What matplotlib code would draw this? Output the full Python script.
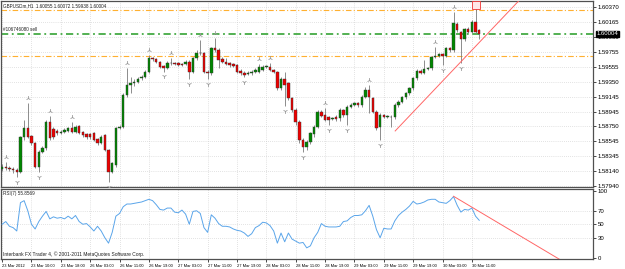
import matplotlib
from matplotlib import pyplot as plt
from matplotlib import transforms

matplotlib.use('Agg')
plt.rcParams['font.family'] = ['Liberation Sans', 'DejaVu Sans']

# GBPUSDm H1 candles, 23 Mar 2012 02:00 .. 30 Mar 2012
opens = [
    1.58165, 1.58202, 1.58188, 1.58174, 1.58156, 1.58134, 1.58609, 1.58723, 1.58618, 1.58519,
    1.58202, 1.58405, 1.58451, 1.58813, 1.58709, 1.58691, 1.58664, 1.58677, 1.58691, 1.58723,
    1.58677, 1.58754, 1.58673, 1.58641, 1.58646, 1.58655, 1.58573, 1.58528, 1.58632, 1.58428,
    1.58134, 1.58224, 1.58723, 1.58745, 1.59176, 1.59311, 1.59334, 1.59357, 1.59402, 1.59425,
    1.59493, 1.59674, 1.59660, 1.59629, 1.59570, 1.59538, 1.59615, 1.59615, 1.59606, 1.59597,
    1.59597, 1.59629, 1.59493, 1.59674, 1.59751, 1.59742, 1.59493, 1.59470, 1.59810, 1.59787,
    1.59660, 1.59629, 1.59606, 1.59597, 1.59583, 1.59506, 1.59479, 1.59461, 1.59470, 1.59493,
    1.59493, 1.59515, 1.59561, 1.59561, 1.59515, 1.59493, 1.59266, 1.59388, 1.59334, 1.59130,
    1.58972, 1.58813, 1.58564, 1.58473, 1.58541, 1.58641, 1.58745, 1.58949, 1.58904, 1.58872,
    1.58854, 1.58881, 1.58858, 1.58972, 1.58904, 1.59017, 1.59040, 1.59062, 1.59040, 1.59153,
    1.59244, 1.59130, 1.58949, 1.58745, 1.58904, 1.58881, 1.58881, 1.58881, 1.59040, 1.59085,
    1.59144, 1.59198, 1.59266, 1.59402, 1.59506, 1.59479, 1.59524, 1.59538, 1.59687, 1.59710,
    1.59728, 1.59706, 1.59810, 1.59787, 1.60140, 1.60036, 1.59932, 1.60068, 1.60036, 1.60172,
    1.60055]
closes = [
    1.58202, 1.58188, 1.58174, 1.58156, 1.58134, 1.58609, 1.58723, 1.58609, 1.58519, 1.58202,
    1.58405, 1.58451, 1.58813, 1.58587, 1.58609, 1.58655, 1.58677, 1.58700, 1.58723, 1.58677,
    1.58745, 1.58664, 1.58632, 1.58600, 1.58600, 1.58564, 1.58519, 1.58609, 1.58428, 1.58134,
    1.58247, 1.58723, 1.58745, 1.59176, 1.59311, 1.59334, 1.59357, 1.59388, 1.59425, 1.59493,
    1.59674, 1.59660, 1.59629, 1.59561, 1.59538, 1.59615, 1.59606, 1.59597, 1.59583, 1.59583,
    1.59629, 1.59493, 1.59674, 1.59751, 1.59742, 1.59493, 1.59470, 1.59810, 1.59787, 1.59651,
    1.59629, 1.59597, 1.59583, 1.59570, 1.59493, 1.59470, 1.59447, 1.59479, 1.59493, 1.59515,
    1.59552, 1.59561, 1.59561, 1.59515, 1.59493, 1.59266, 1.59388, 1.59311, 1.59130, 1.58972,
    1.58813, 1.58564, 1.58473, 1.58541, 1.58655, 1.58745, 1.58949, 1.58890, 1.58836, 1.58836,
    1.58863, 1.58845, 1.58972, 1.58904, 1.59017, 1.59040, 1.59062, 1.59040, 1.59153, 1.59244,
    1.59153, 1.58949, 1.58723, 1.58904, 1.58881, 1.58890, 1.58872, 1.59040, 1.59085, 1.59144,
    1.59198, 1.59266, 1.59402, 1.59506, 1.59479, 1.59524, 1.59538, 1.59687, 1.59710, 1.59728,
    1.59706, 1.59810, 1.59787, 1.60150, 1.60059, 1.59932, 1.60068, 1.60036, 1.60172, 1.60036,
    1.60004]
highs = [
    1.58238, 1.58270, 1.58211, 1.58193, 1.58179, 1.58618, 1.58836, 1.59062, 1.58632, 1.58541,
    1.58428, 1.58482, 1.58836, 1.58890, 1.58736, 1.58709, 1.58700, 1.58723, 1.58736, 1.58813,
    1.58768, 1.58768, 1.58691, 1.58655, 1.58664, 1.58673, 1.58591, 1.58627, 1.58646, 1.58446,
    1.58270, 1.58736, 1.58763, 1.59198, 1.59538, 1.59425, 1.59388, 1.59416, 1.59443, 1.59515,
    1.59719, 1.59697, 1.59678, 1.59642, 1.59588, 1.59633, 1.59674, 1.59629, 1.59624, 1.59615,
    1.59651, 1.59651, 1.59697, 1.59787, 1.59923, 1.59764, 1.59515, 1.59832, 1.59946, 1.59810,
    1.59697, 1.59674, 1.59624, 1.59615, 1.59597, 1.59524, 1.59497, 1.59497, 1.59515, 1.59538,
    1.59597, 1.59579, 1.59588, 1.59615, 1.59533, 1.59506, 1.59416, 1.59493, 1.59357, 1.59153,
    1.58994, 1.58836, 1.58587, 1.58564, 1.58677, 1.58768, 1.58972, 1.58972, 1.58994, 1.58890,
    1.58881, 1.58899, 1.58994, 1.58990, 1.59035, 1.59062, 1.59080, 1.59080, 1.59176, 1.59289,
    1.59311, 1.59153, 1.58972, 1.58926, 1.58917, 1.58908, 1.58899, 1.59062, 1.59108, 1.59162,
    1.59221, 1.59289, 1.59425, 1.59524, 1.59524, 1.59651, 1.59561, 1.59706, 1.59828, 1.59742,
    1.59742, 1.59832, 1.59832, 1.60308, 1.60172, 1.60050, 1.60082, 1.60104, 1.60195, 1.60385,
    1.60072]
lows = [
    1.58147, 1.58156, 1.58147, 1.58111, 1.58057, 1.58120, 1.58564, 1.58587, 1.58496, 1.58179,
    1.58134, 1.58383, 1.58428, 1.58564, 1.58573, 1.58632, 1.58646, 1.58655, 1.58673, 1.58664,
    1.58655, 1.58646, 1.58609, 1.58582, 1.58582, 1.58546, 1.58501, 1.58510, 1.58410, 1.57998,
    1.58111, 1.58202, 1.58709, 1.58723, 1.59153, 1.59198, 1.59298, 1.59334, 1.59379, 1.59407,
    1.59479, 1.59642, 1.59615, 1.59543, 1.59493, 1.59524, 1.59588, 1.59579, 1.59570, 1.59570,
    1.59579, 1.59388, 1.59470, 1.59651, 1.59719, 1.59470, 1.59388, 1.59447, 1.59764, 1.59538,
    1.59606, 1.59579, 1.59561, 1.59552, 1.59470, 1.59452, 1.59416, 1.59443, 1.59452, 1.59479,
    1.59479, 1.59506, 1.59543, 1.59506, 1.59470, 1.59244, 1.59244, 1.59026, 1.59108, 1.58949,
    1.58768, 1.58519, 1.58405, 1.58428, 1.58510, 1.58609, 1.58723, 1.58872, 1.58818, 1.58768,
    1.58836, 1.58827, 1.58827, 1.58881, 1.58768, 1.58999, 1.59026, 1.59017, 1.59017, 1.59130,
    1.58926, 1.58926, 1.58700, 1.58564, 1.58858, 1.58863, 1.58736, 1.58854, 1.59017, 1.59062,
    1.59117, 1.59176, 1.59244, 1.59379, 1.59461, 1.59461, 1.59515, 1.59515, 1.59674, 1.59697,
    1.59583, 1.59687, 1.59764, 1.59764, 1.60036, 1.59606, 1.59914, 1.60014, 1.60014, 1.60014,
    1.59938]

rsi = [
    50, 54, 47, 45, 40, 82, 85, 70, 50, 43,
    54, 62, 69, 58, 61, 59, 60, 58, 62, 58,
    63, 54, 50, 51, 46, 40, 47, 40, 30, 22,
    38, 62, 66, 76, 80, 80, 81, 82, 83, 85,
    87, 85, 79, 72, 71, 74, 74, 68, 67, 71,
    65, 50, 69, 70, 66, 45, 38, 64, 59, 51,
    47, 47, 46, 43, 41, 40, 37, 32, 36, 45,
    48, 53, 52, 48, 40, 22, 37, 24, 37, 28,
    25, 22, 23, 15, 18, 30, 38, 51, 47, 46,
    46, 46, 47, 54, 55, 60, 63, 63, 64, 70,
    78, 62, 42, 30, 44, 43, 43, 55, 63, 68,
    72, 77, 84, 80, 81, 83, 86, 87, 87, 83,
    82, 81, 85, 91, 78, 68, 72, 71, 74, 62,
    55.8569]

fractal_up = [1, 7, 13, 19, 34, 40, 46, 54, 58, 70, 73, 88, 100, 118, 123]
fractal_down = [4, 10, 29, 44, 51, 56, 66, 77, 82, 89, 94, 103, 120, 125]

time_labels = ['23 Mar 2012', '23 Mar 10:00', '23 Mar 18:00', '26 Mar 03:00', '26 Mar 11:00',
               '26 Mar 19:00', '27 Mar 03:00', '27 Mar 11:00', '27 Mar 19:00', '28 Mar 03:00',
               '28 Mar 11:00', '28 Mar 19:00', '29 Mar 03:00', '29 Mar 11:00', '29 Mar 19:00',
               '30 Mar 03:00', '30 Mar 11:00']
price_labels = ['1.60370', '1.60165', '1.59960', '1.59755', '1.59555', '1.59350', '1.59145',
                '1.58945', '1.58750', '1.58545', '1.58345', '1.58140', '1.57940']
rsi_labels = ['100', '70', '50', '30', '0']

# order levels (sell, stop loss, take profit)
sell_price = 1.60010
sl_price = 1.60330
tp_price = 1.59705

# drawn trend lines (bar index, value)
trend_x = [107.1, 141.0]
trend_y = [1.58687, 1.60466]
rsi_trend_x = [123.0, 152.5]
rsi_trend_y = [91.5, -4.0]

bars = list(range(len(closes)))
fs = 3.3
grid_kw = dict(color='#c8c8c8', linewidth=0.5, linestyle=(0, (1, 2)))

fig = plt.figure(figsize=(6.25, 2.69), dpi=100)
ax = fig.add_axes([1 / 625, 1 - 187 / 269, 592 / 625, 186 / 269])
ax2 = fig.add_axes([1 / 625, 10 / 269, 592 / 625, 70.5 / 269])

xticks = [i * 8 for i in range(len(time_labels))]
for a in (ax, ax2):
    a.set_xlim(-0.3, 161.0)
    a.set_xticks(xticks)
    a.yaxis.tick_right()
    a.tick_params(axis='both', length=2, width=0.5, labelsize=4.3, pad=1.5, colors='black')
    for s in a.spines.values():
        s.set_color('#505050')
        s.set_linewidth(0.9)
    a.set_axisbelow(True)

# main price panel
ax.set_ylim(1.57926, 1.60452)
ticks_p = [float(t) for t in price_labels]
ax.set_yticks(ticks_p)
ax.set_yticklabels(price_labels)
ax.tick_params(axis='x', labelbottom=False, length=0)
for t in ticks_p:
    ax.axhline(t, **grid_kw, zorder=0)
for t in xticks:
    ax.axvline(t, **grid_kw, zorder=0)
    ax2.axvline(t, **grid_kw, zorder=0)

ax.vlines(bars, lows, highs, color='#7a7a7a', linewidth=0.6, zorder=2)
body_bottom = [min(o, c) for o, c in zip(opens, closes)]
body_height = [max(abs(c - o), 0.00007) for o, c in zip(opens, closes)]
body_color = ['#008800' if c >= o else '#ee0000' for o, c in zip(opens, closes)]
ax.bar(bars, body_height, bottom=body_bottom, width=0.68, color=body_color,
       edgecolor='#333333', linewidth=0.3, zorder=3)

up_tr = transforms.offset_copy(ax.transData, fig=fig, x=0, y=3.5, units='points')
dn_tr = transforms.offset_copy(ax.transData, fig=fig, x=0, y=-3.5, units='points')
ax.plot(fractal_up, [highs[i] for i in fractal_up], linestyle='none', marker='2',
        markersize=3.5, color='#9a9a9a', mew=0.6, transform=up_tr, zorder=4)
ax.plot(fractal_down, [lows[i] for i in fractal_down], linestyle='none', marker='1',
        markersize=3.5, color='#9a9a9a', mew=0.6, transform=dn_tr, zorder=4)

box_tr = transforms.offset_copy(ax.transData, fig=fig, x=0, y=0.5, units='points')
ax.plot([129], [highs[129]], linestyle='none', marker='s', markersize=5.5,
        mfc='#ffe8e8', mec='#ee3333', mew=0.6, transform=box_tr, zorder=5)

ax.axhline(sl_price, color='#ffb030', linewidth=0.8, linestyle=(0, (5, 2, 1, 2)), zorder=1)
ax.axhline(tp_price, color='#ffb030', linewidth=0.8, linestyle=(0, (5, 2, 1, 2)), zorder=1)
ax.axhline(sell_price, color='#44aa44', linewidth=1.3, linestyle=(0, (4, 2, 1, 2)), zorder=1)
ax.plot(trend_x, trend_y, color='#ff6666', linewidth=0.7, zorder=4)

ax.text(0.004, 0.99, 'GBPUSDm,H1  1.60055 1.60072 1.59938 1.60004', transform=ax.transAxes,
        fontsize=fs, va='top', ha='left', color='#202020')
lbl_tr = transforms.offset_copy(ax.transData, fig=fig, x=0, y=0.8, units='points')
ax.text(0.2, sell_price, '#106746080 sell', transform=lbl_tr, fontsize=fs,
        va='bottom', ha='left', color='#202020')
ax.annotate(f'{closes[-1]:.5f}', xy=(1, closes[-1]), xycoords=('axes fraction', 'data'),
            xytext=(2.5, 0), textcoords='offset points', fontsize=4.3, color='white',
            va='center', ha='left', annotation_clip=False,
            bbox=dict(boxstyle='square,pad=0.15', fc='black', ec='black'))

# RSI panel
ax2.set_ylim(-1.5, 103)
rsi_ticks = [float(t) for t in rsi_labels]
ax2.set_yticks(rsi_ticks)
ax2.set_yticklabels(rsi_labels)
for t in [70, 50, 30]:
    ax2.axhline(t, **grid_kw, zorder=0)
ax2.plot(bars, rsi, color='#5aa5ea', linewidth=0.7, zorder=3)
ax2.plot(rsi_trend_x, rsi_trend_y, color='#ff6666', linewidth=0.7, zorder=4)
ax2.set_xticklabels(time_labels, ha='left', fontsize=2.9)
ax2.tick_params(axis='x', pad=1.5)
ax2.text(0.004, 0.97, f'RSI(7) {rsi[-1]:.4f}', transform=ax2.transAxes, fontsize=fs,
         va='top', ha='left', color='#202020')
ax2.text(0.004, 0.03, 'Interbank FX Trader 4, \u00a9 2001-2011 MetaQuotes Software Corp.',
         transform=ax2.transAxes, fontsize=3.5, va='bottom', ha='left', color='#202020')

fig.savefig('out.png', dpi=100, facecolor='white')
plt.close()
